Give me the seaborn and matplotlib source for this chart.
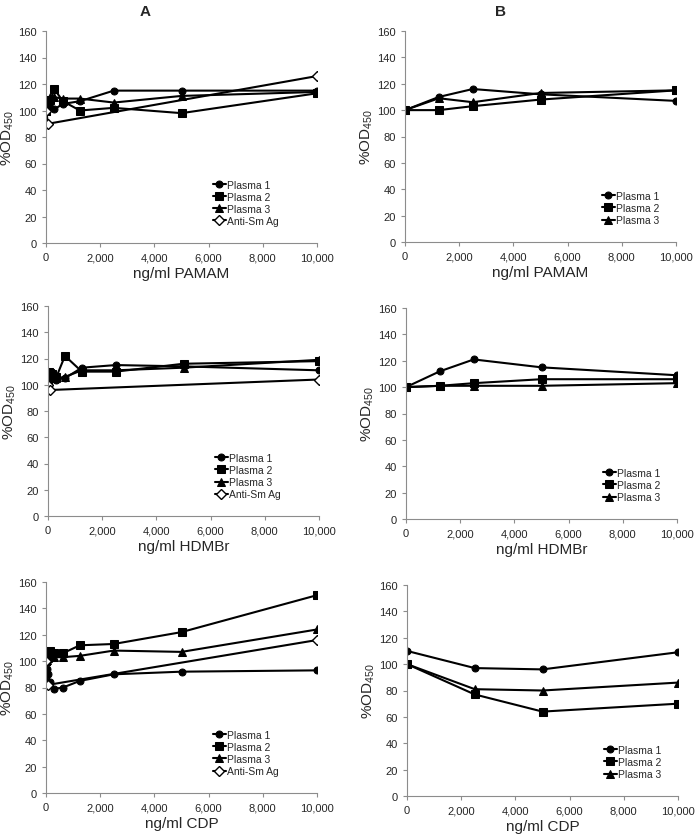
import matplotlib
matplotlib.use("Agg")
import matplotlib.pyplot as plt
import seaborn as sns
import pandas as pd
from matplotlib.ticker import FuncFormatter

sns.set_style("white")
plt.rcParams["font.family"] = ["Liberation Sans", "DejaVu Sans"]
plt.rcParams["mathtext.default"] = "regular"

# dilution series used in column A
dose_a = [0, 39, 78, 156, 312, 625, 1250, 2500, 5000, 10000]
dose_sm = [0, 78, 10000]

# column A, PAMAM
pamam_a_p1 = [100, 103, 106, 107, 101, 105, 107, 115, 115, 115]
pamam_a_p2 = [100, 104, 107, 108, 116, 107, 100, 102, 98, 113]
pamam_a_p3 = [100, 105, 108, 110, 110, 109, 109, 106, 111, 114]
pamam_a_sm = [100, 90, 126]

# column A, HDMBr
hdmbr_a_p1 = [100, 105, 108, 106, 104, 105, 113, 115, 114, 111]
hdmbr_a_p2 = [100, 110, 109, 108, 106, 122, 110, 110, 116, 118]
hdmbr_a_p3 = [100, 106, 107, 106, 105, 106, 111, 111, 113, 119]
hdmbr_a_sm = [100, 96, 104]

# column A, CDP
cdp_a_p1 = [100, 94, 90, 84, 79, 80, 85, 90, 92, 93]
cdp_a_p2 = [100, 103, 104, 108, 106, 106, 112, 113, 122, 150]
cdp_a_p3 = [100, 101, 102, 103, 103, 103, 104, 108, 107, 124]
cdp_a_sm = [100, 82, 116]

# column B
dose_b = [0, 1250, 2500, 5000, 10000]
dose_b_cdp = [0, 2500, 5000, 10000]

pamam_b_p1 = [100, 110, 116, 112, 107]
pamam_b_p2 = [100, 100, 103, 108, 115]
pamam_b_p3 = [100, 109, 106, 113, 115]

hdmbr_b_p1 = [100, 112, 121, 115, 109]
hdmbr_b_p2 = [100, 101, 103, 106, 106]
hdmbr_b_p3 = [100, 101, 101, 101, 103]

cdp_b_p1 = [110, 97, 96, 109]
cdp_b_p2 = [100, 77, 64, 70]
cdp_b_p3 = [100, 81, 80, 86]

xlabels = ["ng/ml PAMAM", "ng/ml HDMBr", "ng/ml CDP"]

fig = plt.figure(figsize=(6.97, 8.37), dpi=100)

# axes boxes in pixels: (left, top, right, bottom)
boxes = {
    ("A", 0): (46, 32, 317, 244),
    ("A", 1): (48, 307, 319, 517),
    ("A", 2): (46, 583, 317, 794),
    ("B", 0): (405, 32, 676, 243),
    ("B", 1): (406, 309, 677, 520),
    ("B", 2): (407, 586, 678, 797),
}

W, H = 697, 837


def make_ax(key):
    l, t, r, b = boxes[key]
    return fig.add_axes([l / W, 1 - b / H, (r - l) / W, (b - t) / H])


def style(ax, xlabel, leg_x):
    ax.set_xlim(0, 10000)
    ax.set_ylim(0, 160)
    ax.set_yticks(range(0, 161, 20))
    ax.set_xticks(range(0, 10001, 2000))
    ax.xaxis.set_major_formatter(FuncFormatter(lambda v, p: f"{int(v):,}"))
    for s in ["top", "right"]:
        ax.spines[s].set_visible(False)
    for s in ["left", "bottom"]:
        ax.spines[s].set_color("#8c8c8c")
        ax.spines[s].set_linewidth(0.8)
    ax.tick_params(axis="both", labelsize=8, length=3, color="#8c8c8c",
                   direction="out", left=True, bottom=True)
    ax.set_xlabel(xlabel, fontsize=11, labelpad=3)
    ax.set_ylabel("%OD$_{450}$", fontsize=11, labelpad=2)
    ax.legend(loc="lower right", bbox_to_anchor=(leg_x, 0.06), frameon=False,
              fontsize=7.5, handlelength=1.3, handletextpad=0.1,
              labelspacing=0.2, borderaxespad=0)


def draw(ax, x, series, sm=None):
    markers = ["o", "s", "^"]
    sizes = [5, 6, 6]
    for i, ys in enumerate(series):
        df = pd.DataFrame({"x": x, "y": ys})
        sns.lineplot(data=df, x="x", y="y", ax=ax, color="black", marker=markers[i],
                     markersize=sizes[i], linewidth=1.5, markeredgecolor="black",
                     label=f"Plasma {i + 1}", errorbar=None, sort=False)
    if sm is not None:
        df = pd.DataFrame({"x": dose_sm, "y": sm})
        sns.lineplot(data=df, x="x", y="y", ax=ax, color="black", marker="D",
                     markersize=5, linewidth=1.5, markerfacecolor="white",
                     markeredgecolor="black", markeredgewidth=1.0,
                     label="Anti-Sm Ag", errorbar=None, sort=False)


col_a = [
    ([pamam_a_p1, pamam_a_p2, pamam_a_p3], pamam_a_sm),
    ([hdmbr_a_p1, hdmbr_a_p2, hdmbr_a_p3], hdmbr_a_sm),
    ([cdp_a_p1, cdp_a_p2, cdp_a_p3], cdp_a_sm),
]
for i, (series, sm) in enumerate(col_a):
    ax = make_ax(("A", i))
    draw(ax, dose_a, series, sm)
    style(ax, xlabels[i], 0.875)

col_b = [
    (dose_b, [pamam_b_p1, pamam_b_p2, pamam_b_p3]),
    (dose_b, [hdmbr_b_p1, hdmbr_b_p2, hdmbr_b_p3]),
    (dose_b_cdp, [cdp_b_p1, cdp_b_p2, cdp_b_p3]),
]
for i, (x, series) in enumerate(col_b):
    ax = make_ax(("B", i))
    draw(ax, x, series)
    style(ax, xlabels[i], 0.955)

fig.text(145 / W, 1 - 12 / H, "A", fontsize=11, fontweight="bold", ha="center", va="center")
fig.text(500 / W, 1 - 12 / H, "B", fontsize=11, fontweight="bold", ha="center", va="center")

fig.savefig("out.png", dpi=100)
